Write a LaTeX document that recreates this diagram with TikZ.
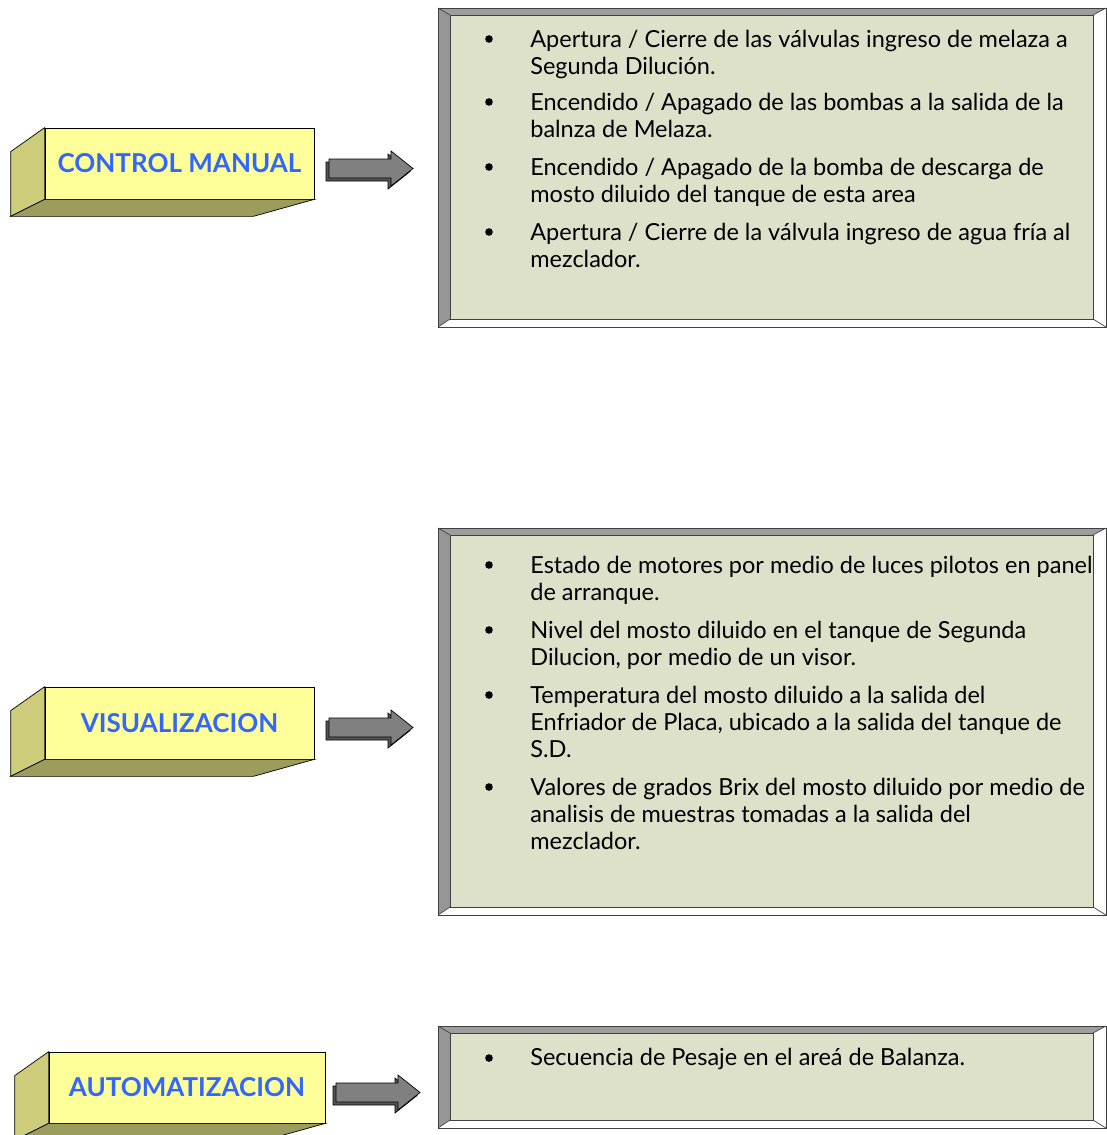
\documentclass[tikz,border=0pt]{standalone}
\usepackage{fontspec}
\setmainfont{Lato}
\usetikzlibrary{calc}
\definecolor{boxfront}{HTML}{FFFF99}
\definecolor{boxside}{HTML}{CCCC7A}
\definecolor{boxbottom}{HTML}{9C9C5C}
\definecolor{titleblue}{HTML}{3366FF}
\definecolor{panelfill}{HTML}{DDE1CA}
\definecolor{bevelgray}{HTML}{9E9E9E}
\definecolor{framegray}{HTML}{404040}
\definecolor{arrowgray}{HTML}{808080}
\definecolor{arrowdark}{HTML}{555555}

% side and bottom faces of a yellow block
\newcommand{\solidbox}[1]{
  \filldraw[fill=boxside] (#1.north west) -- ++(-34,24) -- ($(#1.south west)+(-34,17)$) -- (#1.south west) -- cycle;
  \filldraw[fill=boxbottom] (#1.south west) -- (#1.south east) -- ++(-61,17) -- ($(#1.south west)+(-34,17)$) -- cycle;
}
% grey block arrow, #1,#2 = left end of the shaft
\newcommand{\blockarrow}[2]{
  \begin{scope}[shift={(#1,#2)}]
    \filldraw[fill=arrowdark] (-3,3) -- (59,3) -- (59,-5) -- (81,12.5) -- (59,30) -- (59,22) -- (-3,22) -- cycle;
    \filldraw[fill=arrowgray] (0,0) -- (62,0) -- (62,-8) -- (84,9.5) -- (62,27) -- (62,19) -- (0,19) -- cycle;
  \end{scope}
}
% bevelled panel, #1 = top, #2 = bottom
\newcommand{\bevelpanel}[2]{
  \fill[panelfill] (438,#1) rectangle (1106,#2);
  \fill[bevelgray] (438,#1) -- (1106,#1) -- (1093,{#1+7}) -- (450,{#1+7}) -- cycle;
  \fill[bevelgray!95!black] (438,#1) -- (450,{#1+7}) -- (450,{#2-8}) -- (438,#2) -- cycle;
  \fill[white] (1106,#1) -- (1106,#2) -- (1093,{#2-8}) -- (1093,{#1+7}) -- cycle;
  \fill[white] (438,#2) -- (450,{#2-8}) -- (1093,{#2-8}) -- (1106,#2) -- cycle;
  \draw[framegray] (438,#1) rectangle (1106,#2) (450,{#1+7}) rectangle (1093,{#2-8});
  \draw[framegray] (438,#1) -- (450,{#1+7}) (1106,#1) -- (1093,{#1+7})
                   (438,#2) -- (450,{#2-8}) (1106,#2) -- (1093,{#2-8});
}

\begin{document}
\begin{tikzpicture}[x=1pt,y=-1pt,line width=0.7pt,
    front/.style={draw, fill=boxfront, minimum width=269pt, minimum height=71pt, inner sep=0pt,
      text=titleblue, font=\bfseries\fontsize{26}{30}\selectfont},
    item/.style={anchor=base west, align=left, inner sep=0pt, font=\fontsize{23.5}{27}\selectfont}]
  \useasboundingbox (0,0) rectangle (1107,1135);
  \clip (0,0) rectangle (1107,1135);

  % panels
  \bevelpanel{8}{327}
  \bevelpanel{528}{915}
  \bevelpanel{1026}{1128}

  % blocks
  \node[front] (manual) at (179.5,163.5) {CONTROL MANUAL};
  \solidbox{manual}
  \node[front, minimum height=72pt] (visual) at (179.5,723) {VISUALIZACION};
  \solidbox{visual}
  \node[front, minimum width=276pt] (auto) at (187,1087.5) {AUTOMATIZACION};
  \solidbox{auto}

  % arrows
  \blockarrow{329}{159}
  \blockarrow{329}{718}
  \blockarrow{336}{1083}

  % bullets
  \foreach \y in {39,102,167,232,565,630,695,787,1058}
    \fill (489,\y) circle (3.8);

  % control manual (node base = last line)
  \node[item] (man1) at (530,74) {Apertura / Cierre de las válvulas ingreso de melaza a\\Segunda Dilución.};
  \node[item] (man2) at (530,137) {Encendido / Apagado de las bombas a la salida de la\\balnza de Melaza.};
  \node[item] (man3) at (530,202) {Encendido / Apagado de la bomba de descarga de\\mosto diluido del tanque de esta area};
  \node[item] (man4) at (530,267) {Apertura / Cierre de la válvula ingreso de agua fría al\\mezclador.};

  % visualizacion
  \node[item] (vis1) at (530,600) {Estado de motores por medio de luces pilotos en panel\\de arranque.};
  \node[item] (vis2) at (530,665) {Nivel del mosto diluido en el tanque de Segunda\\Dilucion, por medio de un visor.};
  \node[item] (vis3) at (530,757) {Temperatura del mosto diluido a la salida del\\Enfriador de Placa, ubicado a la salida del tanque de\\S.D.};
  \node[item] (vis4) at (530,849) {Valores de grados Brix del mosto diluido por medio de\\analisis de muestras tomadas a la salida del\\mezclador.};

  % automatizacion
  \node[item] (aut1) at (530,1065) {Secuencia de Pesaje en el areá de Balanza.};
\end{tikzpicture}
\end{document}
